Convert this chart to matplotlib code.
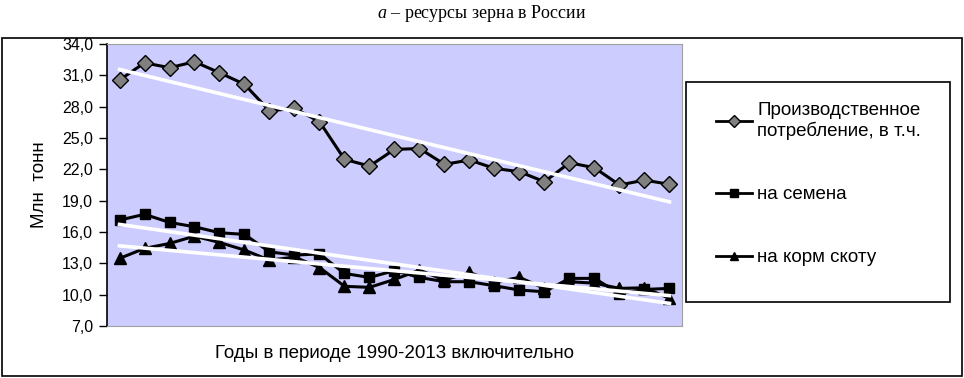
import numpy as np
import matplotlib.pyplot as plt
from matplotlib.patches import Rectangle
from matplotlib.ticker import FuncFormatter

# grain resources in Russia, 1990-2013 (mln t)
years = list(range(1990, 2013))
production = [30.55, 32.2, 31.73, 32.3, 31.25, 30.14, 27.6, 27.84, 26.56, 22.96,
              22.31, 23.91, 23.99, 22.48, 22.89, 22.09, 21.77, 20.81, 22.63,
              22.15, 20.5, 20.97, 20.56]
seeds = [17.14, 17.69, 16.92, 16.5, 15.93, 15.77, 14.1, 13.79, 13.9, 12.03,
         11.65, 12.3, 11.65, 11.24, 11.24, 10.85, 10.44, 10.28, 11.56, 11.56,
         10.1, 10.5, 10.6]
feed = [13.47, 14.43, 14.9, 15.6, 15.0, 14.27, 13.3, 13.6, 12.6, 10.8,
        10.7, 11.46, 12.35, 11.4, 12.13, 11.2, 11.65, 10.6, 11.24, 11.1,
        10.6, 10.66, 9.64]

labels = ["Производственное\nпотребление, в т.ч.", "на семена", "на корм скоту"]
yticks = np.arange(7, 35, 3)

plt.rcParams['font.family'] = ['Liberation Sans', 'DejaVu Sans']
plt.rcParams['mathtext.fontset'] = 'custom'
plt.rcParams['mathtext.rm'] = 'Liberation Serif'
plt.rcParams['mathtext.it'] = 'Liberation Serif:italic'

W, H = 964, 378
fig = plt.figure(figsize=(W / 100, H / 100), dpi=100)
# chart area frame
fig.patches.append(Rectangle((2 / W, 2 / H), 960 / W, 338 / H,
                             transform=fig.transFigure, fill=False,
                             edgecolor='black', linewidth=1.2, zorder=-2))
fig.text(0.5, 1 - 14 / H, "$a$ – ресурсы зерна в России",
         ha='center', va='center', fontsize=13, family='Liberation Serif')

ax = fig.add_axes([107 / W, 1 - 326 / H, 575 / W, 282 / H])
ax.set_facecolor('#CCCCFF')

x = np.arange(len(years))
ax.plot(x, production, color='black', lw=2.2, marker='D', markersize=8,
        markerfacecolor='#808080', markeredgecolor='black', markeredgewidth=1,
        label=labels[0], zorder=3)
ax.plot(x, seeds, color='black', lw=2.2, marker='s', markersize=7,
        markerfacecolor='black', label=labels[1], zorder=3)
ax.plot(x, feed, color='black', lw=2.2, marker='^', markersize=8,
        markerfacecolor='black', label=labels[2], zorder=3)

# linear trend lines in white, on top of the series
for series in (production, seeds, feed):
    k, b = np.polyfit(x, series, 1)
    ax.plot(x, k * x + b, color='white', lw=2.6, zorder=4)

ax.set_xlim(-0.5, len(years) - 0.5)
ax.set_ylim(7, 34)
ax.set_yticks(yticks)
ax.yaxis.set_major_formatter(FuncFormatter(lambda v, p: f"{v:.1f}".replace('.', ',')))
ax.set_xticks([])
ax.tick_params(axis='y', direction='out', length=6, width=1, labelsize=11.5, pad=4)
for side in ('top', 'right', 'bottom'):
    ax.spines[side].set_color('#A0A0A0')
ax.spines['left'].set_linewidth(1.2)

ax.set_ylabel("Млн  тонн", fontsize=13.5, labelpad=10)
ax.set_xlabel("Годы в периоде 1990-2013 включительно", fontsize=13.5, labelpad=14)

# legend box drawn separately so it keeps the reference size
fig.patches.append(Rectangle((686 / W, 1 - 302 / H), 264 / W, 220 / H,
                             transform=fig.transFigure, facecolor='white',
                             edgecolor='black', linewidth=1.2, zorder=-1))
leg = ax.legend(loc='upper left', bbox_to_anchor=(716 / W, 1 - 102 / H),
                bbox_transform=fig.transFigure, fontsize=13.5, frameon=False,
                handlelength=1.9, handletextpad=0.3, labelspacing=2.45,
                borderpad=0, borderaxespad=0, markerscale=0.75)
for line in leg.get_lines():
    line.set_linewidth(2)

fig.savefig('out.png', dpi=100)
